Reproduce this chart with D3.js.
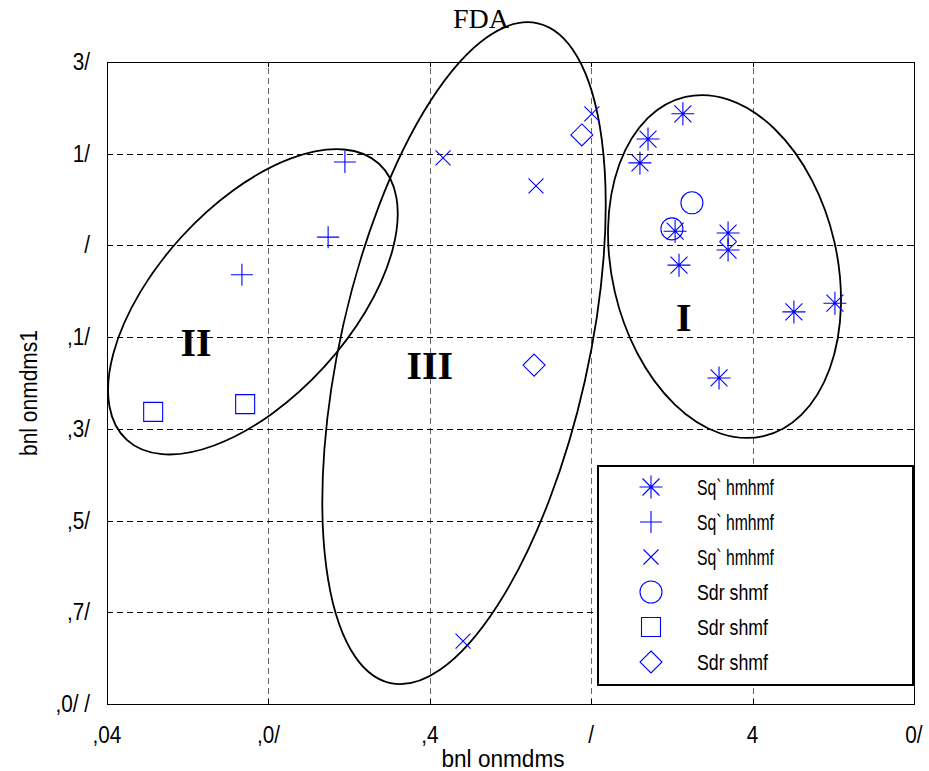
<!DOCTYPE html>
<html>
<head>
<meta charset="utf-8">
<script src="https://cdn.jsdelivr.net/npm/d3@7"></script>
<style>
  html, body { margin: 0; padding: 0; background: #fff; }
  svg { display: block; }
</style>
</head>
<body>
<svg id="chart" width="929" height="771"></svg>
<script>
// ---------------- DATA ----------------
const xTicks = [-15, -10, -5, 0, 5, 10];
const xTickLabels = [",04", ",0/", ",4", "/", "4", "0/"];
const yTicks = [40, 20, 0, -20, -40, -60, -80, -100];
const yTickLabels = ["3/", "1/", "/", ",1/", ",3/", ",5/", ",7/", ",0/ /"];

const titleText = "FDA";
const xLabelText = "bnl onmdms";
const yLabelText = "bnl onmdms1";

const seriesNames = ["Sq` hmhmf", "Sq` hmhmf", "Sq` hmhmf", "Sdr shmf", "Sdr shmf", "Sdr shmf"];
const seriesMarkers = ["asterisk", "plus", "cross", "circle", "square", "diamond"];

const training1 = [[2.84, 28.7], [1.76, 23.2], [1.51, 18.0], [2.6, 3.1], [4.24, 2.7],
                   [4.24, -1.0], [2.72, -4.3], [6.28, -14.5], [7.55, -12.6], [3.96, -28.9]];
const training2 = [[-7.63, 18.2], [-8.15, 1.8], [-10.82, -6.4]];
const training3 = [[-4.59, 19.1], [-1.71, 13.0], [0.02, 28.7], [-3.97, -86.3]];
const testing1 = [[3.12, 9.3], [2.5, 3.6]];
const testing2 = [[-13.57, -36.3], [-10.72, -34.6]];
const testing3 = [[-0.29, 24.1], [-1.77, -26.1]];
const allSeries = [training1, training2, training3, testing1, testing2, testing3];

// cluster ellipses: centre in data units
const ellipseCentres = [[4.13, -4.6], [-10.48, -12.3], [-3.94, -23.5]];
const clusterLabels = ["I", "II", "III"];
const clusterLabelPos = [[2.87, -15.8], [-12.24, -21.1], [-5.0, -26.1]];

// ---------------- LAYOUT / STYLE ----------------
const ellipseShapes = [ // rx, ry (px), rotation (deg)
  {rx: 112.6, ry: 174, rot: -13},
  {rx: 187, ry: 96.5, rot: -47.6},
  {rx: 124, ry: 338, rot: 12.6}
];
const L = 107, R = 914, T = 62, B = 704;
const blue = "#0000ff";

const svg = d3.select("#chart");
const x = d3.scaleLinear().domain([-15, 10]).range([L, R]);
const y = d3.scaleLinear().domain([-100, 40]).range([B, T]);

const sansFont = "'Liberation Sans', Arial, sans-serif";
const serifFont = "'Liberation Serif', 'Times New Roman', serif";

// grid
const grid = svg.append("g");
grid.append("g").attr("class", "vgrid").attr("transform", `translate(0,${B})`)
  .call(d3.axisBottom(x).tickValues(xTicks).tickSize(-(B - T)).tickFormat(""))
  .call(g => g.select(".domain").remove());
grid.append("g").attr("class", "hgrid").attr("transform", `translate(${L},0)`)
  .call(d3.axisLeft(y).tickValues(yTicks).tickSize(-(R - L)).tickFormat(""))
  .call(g => g.select(".domain").remove());
grid.selectAll(".tick line").attr("stroke-width", 1)
  .attr("stroke-dasharray", "6,4").attr("shape-rendering", "crispEdges");
grid.selectAll(".vgrid .tick line").attr("stroke", "#666");
grid.selectAll(".hgrid .tick line").attr("stroke", "#000");

// ellipses
ellipseCentres.forEach((c, i) => {
  const s = ellipseShapes[i];
  svg.append("ellipse")
    .attr("transform", `translate(${x(c[0])},${y(c[1])}) rotate(${s.rot})`)
    .attr("rx", s.rx).attr("ry", s.ry)
    .attr("fill", "none").attr("stroke", "#000").attr("stroke-width", 1.8);
});

// marker path generator
function markerPath(type) {
  const p = d3.path();
  if (type === "asterisk") {
    const h = 11.5, d = 8.5;
    p.moveTo(-h, 0); p.lineTo(h, 0);
    p.moveTo(0, -h); p.lineTo(0, h);
    p.moveTo(-d, -d); p.lineTo(d, d);
    p.moveTo(-d, d); p.lineTo(d, -d);
  } else if (type === "plus") {
    const h = 11;
    p.moveTo(-h, 0); p.lineTo(h, 0);
    p.moveTo(0, -h); p.lineTo(0, h);
  } else if (type === "cross") {
    const d = 7.5;
    p.moveTo(-d, -d); p.lineTo(d, d);
    p.moveTo(-d, d); p.lineTo(d, -d);
  } else if (type === "circle") {
    p.arc(0, 0, 11, 0, 2 * Math.PI);
  } else if (type === "square") {
    p.rect(-9.5, -9.5, 19, 19);
  } else if (type === "diamond") {
    const h = 11;
    p.moveTo(0, -h); p.lineTo(h, 0); p.lineTo(0, h); p.lineTo(-h, 0); p.closePath();
  }
  return p.toString();
}

// points
allSeries.forEach((pts, si) => {
  svg.append("g").selectAll("path").data(pts).join("path")
    .attr("transform", d => `translate(${x(d[0])},${y(d[1])})`)
    .attr("d", markerPath(seriesMarkers[si]))
    .attr("fill", "none").attr("stroke", blue).attr("stroke-width", 1.1);
});

// cluster labels
clusterLabels.forEach((t, i) => {
  svg.append("text").attr("x", x(clusterLabelPos[i][0])).attr("y", y(clusterLabelPos[i][1]))
    .attr("text-anchor", "middle").attr("dominant-baseline", "central")
    .attr("font-family", serifFont).attr("font-weight", "bold").attr("font-size", 40)
    .text(t);
});

// axes frame
svg.append("rect").attr("x", L).attr("y", T).attr("width", R - L).attr("height", B - T)
  .attr("fill", "none").attr("stroke", "#000").attr("stroke-width", 1).attr("shape-rendering", "crispEdges");

// inward ticks on four sides
const tickLen = 5;
const tk = svg.append("g");
tk.append("g").attr("transform", `translate(0,${B})`).call(d3.axisBottom(x).tickValues(xTicks).tickSize(-tickLen).tickFormat(""));
tk.append("g").attr("transform", `translate(0,${T})`).call(d3.axisTop(x).tickValues(xTicks).tickSize(-tickLen).tickFormat(""));
tk.append("g").attr("transform", `translate(${L},0)`).call(d3.axisLeft(y).tickValues(yTicks).tickSize(-tickLen).tickFormat(""));
tk.append("g").attr("transform", `translate(${R},0)`).call(d3.axisRight(y).tickValues(yTicks).tickSize(-tickLen).tickFormat(""));
tk.selectAll(".domain").remove();
tk.selectAll(".tick line").attr("stroke", "#000").attr("shape-rendering", "crispEdges");

// tick labels
const condensed = [];
xTicks.forEach((v, i) => {
  const t = svg.append("text").attr("x", x(v)).attr("y", B + 39)
    .attr("text-anchor", "middle").attr("font-family", sansFont).attr("font-size", 23)
    .text(xTickLabels[i]);
  condensed.push([t, 0.9, null]);
});
yTicks.forEach((v, i) => {
  const t = svg.append("text").attr("x", L - 17).attr("y", y(v) + 8)
    .attr("text-anchor", "end").attr("font-family", sansFont).attr("font-size", 23)
    .text(yTickLabels[i]);
  condensed.push([t, 0.9, null]);
});

// axis labels & title
const xl = svg.append("text").attr("x", 503).attr("y", 767).attr("text-anchor", "middle")
  .attr("font-family", sansFont).attr("font-size", 23).text(xLabelText);
condensed.push([xl, null, 123]);
const yl = svg.append("text").attr("transform", `translate(37,${(T + B) / 2 + 10}) rotate(-90)`)
  .attr("text-anchor", "middle").attr("font-family", sansFont).attr("font-size", 23).text(yLabelText);
condensed.push([yl, null, 126]);
svg.append("text").attr("x", 481).attr("y", 28).attr("text-anchor", "middle")
  .attr("font-family", serifFont).attr("font-size", 28).text(titleText);

// legend
const lg = svg.append("g");
lg.append("rect").attr("x", 598).attr("y", 466).attr("width", 315).attr("height", 219)
  .attr("fill", "#fff").attr("stroke", "#000").attr("stroke-width", 1.2).attr("shape-rendering", "crispEdges");
seriesNames.forEach((name, i) => {
  const cy = 487 + i * 35;
  lg.append("path").attr("transform", `translate(651,${cy})`).attr("d", markerPath(seriesMarkers[i]))
    .attr("fill", "none").attr("stroke", blue).attr("stroke-width", 1.1);
  const t = lg.append("text").attr("x", 697).attr("y", cy + 8).attr("font-family", sansFont)
    .attr("font-size", 22).text(name);
  condensed.push([t, null, i < 3 ? 77 : 71]);
});

// condense text horizontally (narrow font look)
condensed.forEach(([t, f, w]) => {
  const nat = t.node().getComputedTextLength();
  t.attr("textLength", w != null ? w : nat * f).attr("lengthAdjust", "spacingAndGlyphs");
});
</script>
</body>
</html>
